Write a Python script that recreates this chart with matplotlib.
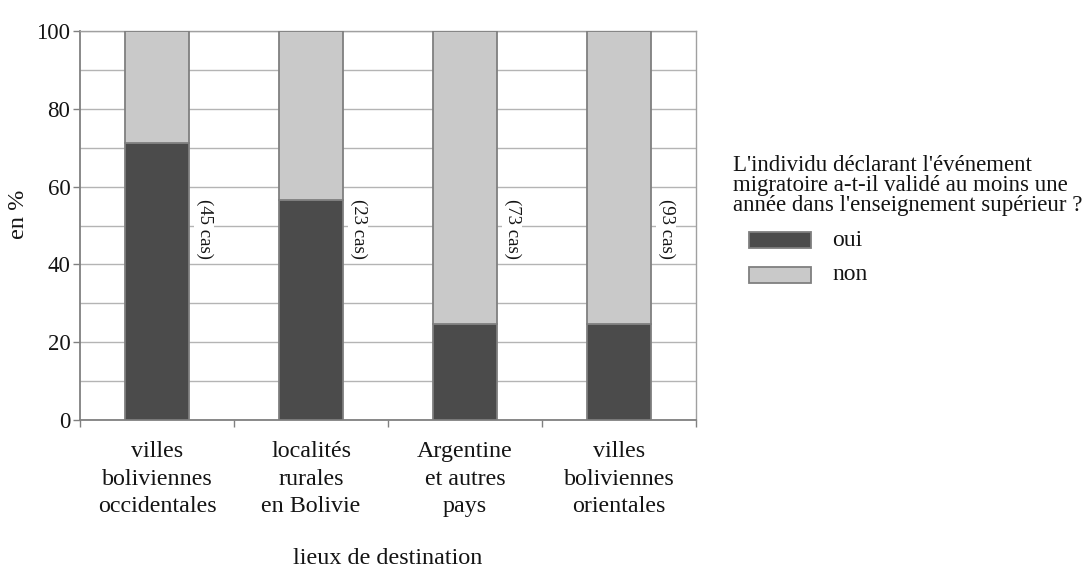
import matplotlib
matplotlib.use("Agg")
import matplotlib.pyplot as plt
from matplotlib.patches import Rectangle
import numpy as np

plt.rcParams["font.family"] = ["Liberation Serif", "DejaVu Serif"]

categories = ["villes\nboliviennes\noccidentales",
              "localités\nrurales\nen Bolivie",
              "Argentine\net autres\npays",
              "villes\nboliviennes\norientales"]
oui = [71.1, 56.5, 24.7, 24.7]
non = [100 - v for v in oui]
cases = [45, 23, 73, 93]
series_labels = ["oui", "non"]
legend_title = ("L'individu déclarant l'événement\n"
                "migratoire a-t-il validé au moins une\n"
                "année dans l'enseignement supérieur ?")

W, H = 1089, 569
fig = plt.figure(figsize=(W / 100, H / 100), dpi=100)
fig.patch.set_facecolor("white")

ax_l, ax_r, ax_t, ax_b = 80, 696, 31, 420
ax = fig.add_axes([ax_l / W, 1 - ax_b / H, (ax_r - ax_l) / W, (ax_b - ax_t) / H])

txt = "#141414"
dark, light, edge = "#4b4b4b", "#c9c9c9", "#7f7f7f"
x = np.arange(len(categories))
bw = 0.415
ax.bar(x, oui, width=bw, color=dark, edgecolor=edge, linewidth=1.3, zorder=3)
ax.bar(x, non, bottom=oui, width=bw, color=light, edgecolor=edge, linewidth=1.3, zorder=3)

for xi, n in zip(x, cases):
    ax.text(xi + bw / 2 + 0.1, 49, f"({n} cas)", rotation=270, ha="center", va="center",
            fontsize=13.5, color=txt, zorder=4,
            bbox=dict(facecolor="white", edgecolor="none", pad=1.0))

ax.set_xlim(-0.5, len(categories) - 0.5)
ax.set_ylim(0, 100)

ax.set_yticks(np.arange(0, 101, 20))
ax.set_yticks(np.arange(0, 101, 10), minor=True)
ax.yaxis.grid(True, which="both", color="#b4b4b4", linewidth=1.0, zorder=0)
ax.tick_params(axis="y", which="major", length=5, width=1, color="#808080",
               labelsize=16.5, pad=2, labelcolor=txt)
ax.tick_params(axis="y", which="minor", length=0)

ax.set_xticks(x)
ax.set_xticklabels(categories, fontsize=17.3, linespacing=1.42, color=txt)
ax.set_xticks(np.arange(-0.5, len(categories), 1), minor=True)
ax.tick_params(axis="x", which="major", length=0, pad=15)
ax.tick_params(axis="x", which="minor", length=5, width=1, color="#808080")

for s in ["left", "bottom"]:
    ax.spines[s].set_color("#808080")
    ax.spines[s].set_linewidth(1.3)
for s in ["top", "right"]:
    ax.spines[s].set_color("#a0a0a0")
    ax.spines[s].set_linewidth(1.0)

fig.text(19 / W, 1 - 214 / H, "en %", rotation=90, ha="center", va="center",
         fontsize=17.5, color=txt)
fig.text(388 / W, 1 - 558 / H, "lieux de destination", ha="center", va="center",
         fontsize=17.4, color=txt)

# legend block to the right of the plot
fig.text(733 / W, 1 - 155 / H, legend_title, ha="left", va="top",
         fontsize=16.5, linespacing=0.95, color=txt)
for (y0, y1), c, lab in zip([(232, 248), (267, 283)], [dark, light], series_labels):
    fig.patches.append(Rectangle((749 / W, 1 - y1 / H), 62 / W, (y1 - y0) / H,
                                 transform=fig.transFigure, facecolor=c,
                                 edgecolor=edge, linewidth=1.3))
    fig.text(832 / W, 1 - (y0 + y1) / 2 / H, lab, ha="left", va="center",
             fontsize=17, color=txt)

fig.savefig("out.png", dpi=100)
